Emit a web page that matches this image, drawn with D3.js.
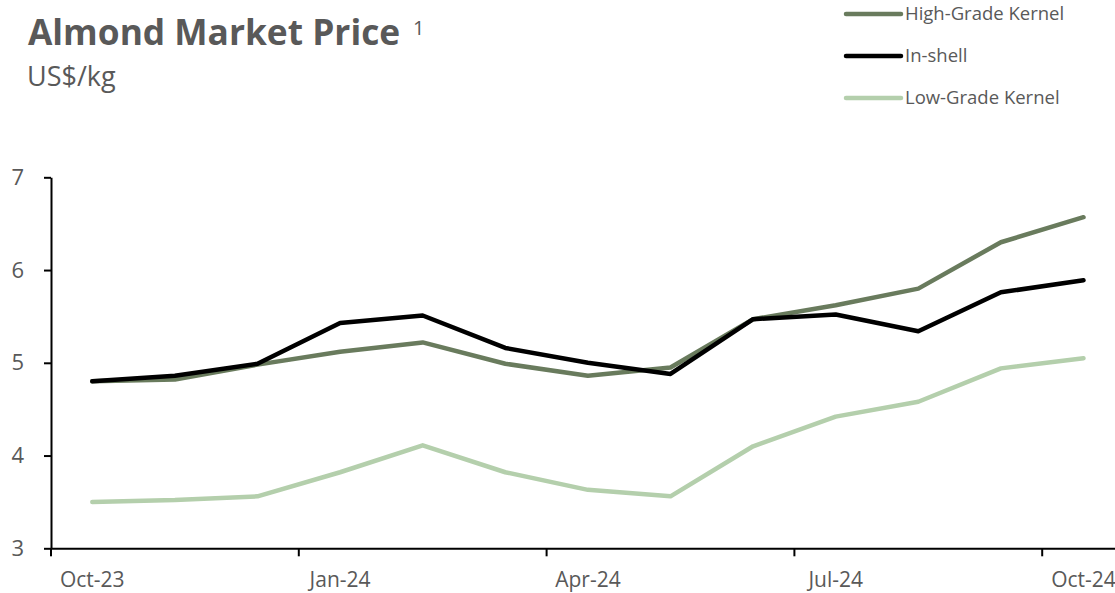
<!DOCTYPE html>
<html>
<head>
<meta charset="utf-8">
<script src="https://cdn.jsdelivr.net/npm/d3@7"></script>
<style>
  body { margin: 0; background: #fff; }
  svg { display: block; font-family: "Open Sans", sans-serif; }
</style>
</head>
<body>
<svg id="chart" width="1115" height="593"></svg>
<script>
var months = ["Oct-23","Nov-23","Dec-23","Jan-24","Feb-24","Mar-24","Apr-24","May-24","Jun-24","Jul-24","Aug-24","Sep-24","Oct-24"]
var tick_months = ["Oct-23","Jan-24","Apr-24","Jul-24","Oct-24"]
var y_ticks = [3, 4, 5, 6, 7]

var high_grade = [4.80, 4.82, 4.98, 5.12, 5.22, 4.99, 4.86, 4.95, 5.47, 5.62, 5.80, 6.30, 6.57]
var in_shell   = [4.80, 4.86, 4.99, 5.43, 5.51, 5.16, 5.00, 4.88, 5.47, 5.52, 5.34, 5.76, 5.89]
var low_grade  = [3.50, 3.52, 3.56, 3.82, 4.11, 3.82, 3.63, 3.56, 4.10, 4.42, 4.58, 4.94, 5.05]

var series = [
    {name: "High-Grade Kernel", values: high_grade, color: "#697b5d"},
    {name: "In-shell", values: in_shell, color: "#000000"},
    {name: "Low-Grade Kernel", values: low_grade, color: "#b4cfac"}
]

var text_color = "#595959"
var svg = d3.select("#chart")

var x = d3.scaleBand().domain(months).range([51, 51 + 13 * 82.6])
var y = d3.scaleLinear().domain([3, 7]).range([548.3, 177.3])
var bw = x.bandwidth()

// title
svg.append("text")
    .attr("x", 28).attr("y", 45)
    .attr("fill", text_color)
    .attr("font-size", 35.3).attr("font-weight", "bold")
    .text("Almond Market Price")
svg.append("text")
    .attr("x", 413).attr("y", 35)
    .attr("fill", text_color)
    .attr("font-size", 20)
    .text("1")
svg.append("text")
    .attr("x", 27).attr("y", 86)
    .attr("fill", text_color)
    .attr("font-size", 27)
    .text("US$/kg")

// legend
var legend = svg.selectAll("g.legend").data(series)
    .enter().append("g")
    .attr("class", "legend")
    .attr("transform", function(d, i) { return "translate(845," + (14 + i * 42) + ")" })
legend.append("line")
    .attr("x1", 1).attr("x2", 56)
    .attr("stroke", function(d) { return d.color })
    .attr("stroke-width", 4.5)
    .attr("stroke-linecap", "round")
legend.append("text")
    .attr("x", 60).attr("y", 0)
    .attr("dy", "0.35em")
    .attr("fill", text_color)
    .attr("font-size", 18.5)
    .text(function(d) { return d.name })

// axes
var x_axis = svg.append("g")
    .attr("transform", "translate(0," + y(3) + ")")
    .call(d3.axisBottom(x).tickValues(tick_months).tickSize(8).tickSizeOuter(0).tickPadding(16))
x_axis.select(".domain").attr("stroke", "#000").attr("stroke-width", 2)
x_axis.selectAll(".tick line")
    .attr("x1", -bw / 2).attr("x2", -bw / 2)
    .attr("stroke", "#000").attr("stroke-width", 2)
x_axis.selectAll(".tick text")
    .attr("fill", text_color).attr("font-size", 21).attr("font-family", "Open Sans")

var y_axis = svg.append("g")
    .attr("transform", "translate(51,0)")
    .call(d3.axisLeft(y).tickValues(y_ticks).tickFormat(d3.format("d")).tickSize(7).tickSizeOuter(0).tickPadding(20))
y_axis.select(".domain").attr("stroke", "#000").attr("stroke-width", 2)
y_axis.selectAll(".tick line").attr("stroke", "#000").attr("stroke-width", 2)
y_axis.selectAll(".tick text")
    .attr("fill", text_color).attr("font-size", 22).attr("font-family", "Open Sans")

// lines
var line = d3.line()
    .x(function(d, i) { return x(months[i]) + bw / 2 })
    .y(function(d) { return y(d) })

svg.selectAll("path.series").data(series)
    .enter().append("path")
    .attr("class", "series")
    .attr("fill", "none")
    .attr("stroke", function(d) { return d.color })
    .attr("stroke-width", 4.5)
    .attr("stroke-linejoin", "round")
    .attr("stroke-linecap", "round")
    .attr("d", function(d) { return line(d.values) })
</script>
</body>
</html>
